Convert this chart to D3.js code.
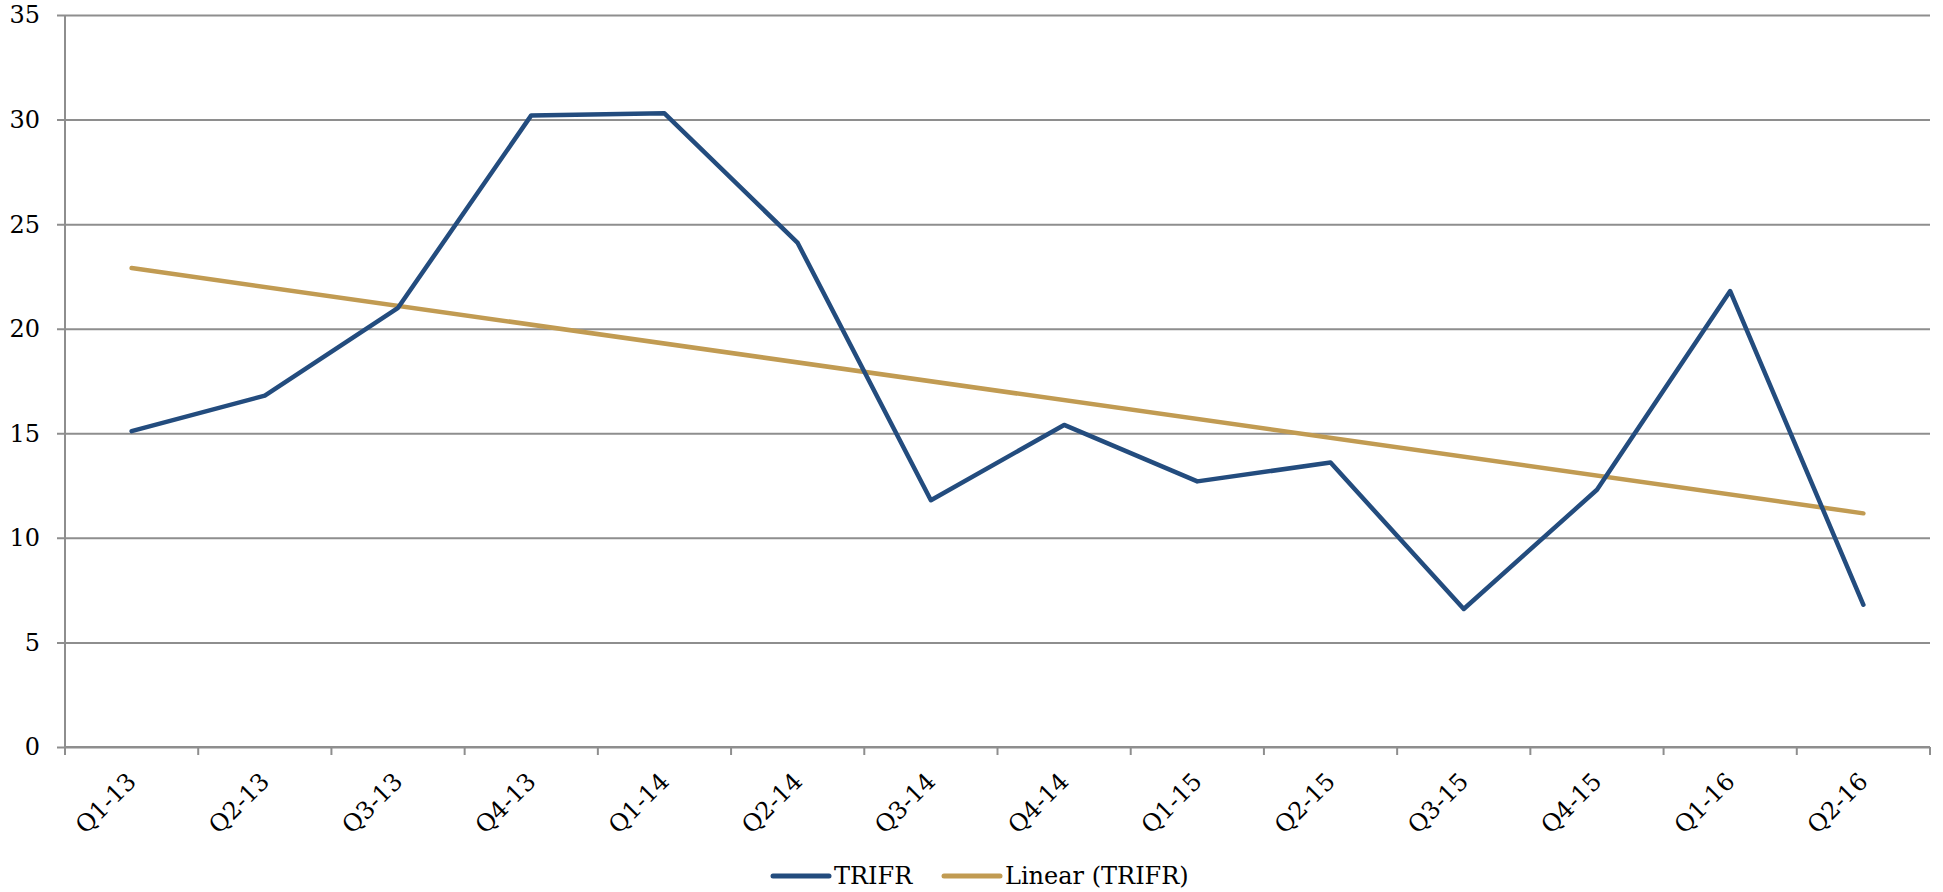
<!DOCTYPE html>
<html>
<head>
<meta charset="utf-8">
<script src="https://cdn.jsdelivr.net/npm/d3@7"></script>
<style>
  html, body { margin: 0; padding: 0; background: #fff; }
  svg text { font-family: "DejaVu Serif", "Liberation Serif", serif; fill: #000; }
</style>
</head>
<body>
<svg id="chart" width="1943" height="892"></svg>
<script>
// Quarter labels and TRIFR values
const quarters = ["Q1-13","Q2-13","Q3-13","Q4-13","Q1-14","Q2-14","Q3-14","Q4-14",
                  "Q1-15","Q2-15","Q3-15","Q4-15","Q1-16","Q2-16"];
const trifr = [15.1, 16.8, 21.0, 30.2, 30.3, 24.1, 11.8, 15.4, 12.7, 13.6, 6.6, 12.3, 21.8, 6.8];
const yTicks = [0, 5, 10, 15, 20, 25, 30, 35];
const seriesNames = ["TRIFR", "Linear (TRIFR)"];

const BLUE = "#234C7E", GOLD = "#C19B52", GRID = "#8E8E8E";
const fontSize = 24;

const svg = d3.select("#chart");
const plot = { left: 65, right: 1930, top: 15, bottom: 747 };

const x = d3.scaleBand().domain(quarters).range([plot.left, plot.right]).padding(0);
const y = d3.scaleLinear().domain([0, 35]).range([plot.bottom, plot.top]);
const cx = q => x(q) + x.bandwidth() / 2;

// Least-squares trend over the quarter index
const n = trifr.length;
const idx = d3.range(1, n + 1);
const mx = d3.mean(idx), my = d3.mean(trifr);
const slope = d3.sum(idx, (v, i) => (v - mx) * (trifr[i] - my)) / d3.sum(idx, v => (v - mx) ** 2);
const intercept = my - slope * mx;
const trend = [idx[0], idx[n - 1]].map(v => ({ q: quarters[v - 1], v: intercept + slope * v }));

// Horizontal gridlines with outward tick marks, via the y axis
const yAxis = d3.axisLeft(y).tickValues(yTicks).tickSize(0).tickPadding(0).tickFormat("");
svg.append("g")
  .attr("transform", `translate(${plot.left},0)`)
  .call(yAxis)
  .call(g => g.select(".domain").remove())
  .call(g => g.selectAll(".tick line")
    .attr("x1", -8).attr("x2", plot.right - plot.left)
    .attr("stroke", GRID).attr("stroke-width", 2));

// Y tick labels
svg.append("g").selectAll("text").data(yTicks).join("text")
  .attr("x", 40).attr("y", d => y(d))
  .attr("dy", "0.35em")
  .attr("text-anchor", "end")
  .attr("font-size", fontSize)
  .text(d => d);

// Vertical axis line
svg.append("line")
  .attr("x1", plot.left).attr("x2", plot.left)
  .attr("y1", plot.top).attr("y2", plot.bottom + 8)
  .attr("stroke", GRID).attr("stroke-width", 2);

// Category axis: line plus ticks at band boundaries
const bounds = quarters.map(q => x(q)).concat([plot.right]);
svg.append("line")
  .attr("x1", plot.left).attr("x2", plot.right)
  .attr("y1", plot.bottom).attr("y2", plot.bottom)
  .attr("stroke", GRID).attr("stroke-width", 2);
svg.append("g").selectAll("line").data(bounds).join("line")
  .attr("x1", d => d).attr("x2", d => d)
  .attr("y1", plot.bottom).attr("y2", plot.bottom + 8)
  .attr("stroke", GRID).attr("stroke-width", 2);

// Rotated category labels
svg.append("g").selectAll("text").data(quarters).join("text")
  .attr("transform", d => `translate(${cx(d) + 6},${plot.bottom + 36}) rotate(-45)`)
  .attr("text-anchor", "end")
  .attr("font-size", fontSize)
  .text(d => d);

// Trend line
const line = d3.line().x(d => cx(d.q)).y(d => y(d.v));
svg.append("path")
  .datum(trend)
  .attr("d", line)
  .attr("fill", "none")
  .attr("stroke", GOLD).attr("stroke-width", 4.5)
  .attr("stroke-linecap", "round");

// TRIFR series
svg.append("path")
  .datum(quarters.map((q, i) => ({ q, v: trifr[i] })))
  .attr("d", line)
  .attr("fill", "none")
  .attr("stroke", BLUE).attr("stroke-width", 4.5)
  .attr("stroke-linejoin", "round").attr("stroke-linecap", "round");

// Legend
const legend = svg.append("g").attr("transform", "translate(0,876)");
const items = [
  { name: seriesNames[0], color: BLUE, x0: 773 },
  { name: seriesNames[1], color: GOLD, x0: 944 }
];
items.forEach(it => {
  legend.append("line")
    .attr("x1", it.x0).attr("x2", it.x0 + 56)
    .attr("y1", 0).attr("y2", 0)
    .attr("stroke", it.color).attr("stroke-width", 5)
    .attr("stroke-linecap", "round");
  legend.append("text")
    .attr("x", it.x0 + 61).attr("y", 0).attr("dy", "0.35em")
    .attr("font-size", fontSize)
    .text(it.name);
});
</script>
</body>
</html>
